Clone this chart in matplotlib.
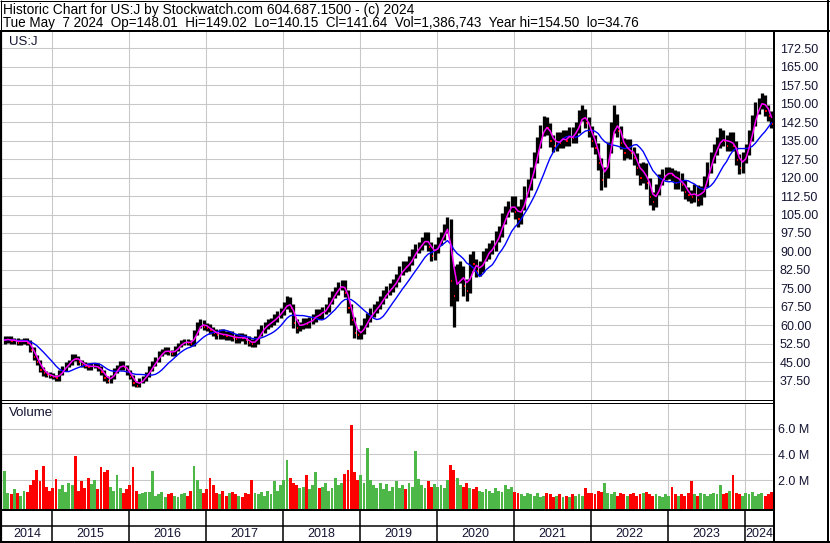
import numpy as np
import pandas as pd
import matplotlib
matplotlib.use("Agg")
import matplotlib.pyplot as plt
from matplotlib.lines import Line2D

# ---------------- data (semi-monthly bars, mid-May 2014 .. May 7 2024) ----------------
close = [
    54, 54.5, 53.5, 54, 53, 53.5, 54, 53, 50, 47, 45, 42, 40.5, 40, 39.5,
    39, 38.5, 41, 42.5, 44, 45, 47.5, 46.5, 45, 44, 43.5, 43, 43.5, 43.5, 42.5, 41, 38.5, 37.5, 39, 41.5, 43, 44.5, 43, 41,
    39, 36.5, 35.5, 37.5, 38.5, 40, 42.5, 44.5, 46, 48.5, 49.5, 50, 49, 48.5, 50.5, 52, 53, 53.5, 53, 52.5, 57, 60, 61, 59.5,
    59, 58, 57, 56, 57, 56, 55.5, 56, 55, 54.5, 55.5, 55, 54, 53, 52.5, 54, 57, 58.5, 60, 61, 61.5, 63, 64.5, 65.5,
    68, 70, 67, 61, 59, 60, 61.5, 60.5, 62, 63, 65, 64, 66, 67, 70, 72.5, 74, 76, 77, 73, 67, 62, 57, 56,
    58, 61, 63, 65, 66.5, 68, 70, 72.5, 74, 75, 77, 79, 82, 84, 83.5, 86, 89, 91, 92, 94, 96, 92, 88, 91,
    94, 96, 99, 102, 78, 72, 80, 82, 76, 74, 86, 85, 82, 83, 88, 89, 91, 92, 96, 98, 103, 106, 108, 110,
    106, 103, 109, 114, 117, 122, 128, 134, 139, 142, 140, 135, 133, 136, 134, 137, 135, 138, 136, 140, 145, 146, 142, 139,
    135, 132, 126, 119, 122, 132, 140, 144, 139, 134, 130, 133, 130, 128, 124, 120, 124, 118, 112, 110, 115, 119, 121, 122,
    122, 121, 118, 120, 117, 114, 113, 112, 115, 111, 114, 118, 124, 128, 131, 134, 137, 135, 133, 136, 133, 127, 124, 128,
    131, 137, 143, 148, 150, 152, 147, 145, 141.6,
]
high = [
    55.5, 55.5, 55.5, 55, 55, 54.5, 55, 55, 54, 51, 48, 46, 43, 41.5, 41,
    40.5, 40, 42, 43.5, 45, 46, 48.5, 48.5, 47.5, 46, 45, 44.5, 44.5, 44.5, 44.5, 43.5, 42, 39.5, 40, 42.5, 44, 45.5, 45.5, 44,
    42, 40, 37.5, 38.5, 39.5, 41, 43.5, 45.5, 47, 49.5, 50.5, 51, 51, 50, 51.5, 53, 54, 54.5, 54.5, 54, 58, 61.5, 62.5, 62,
    61, 60.5, 59.5, 58.5, 58.5, 58.5, 57.5, 57.5, 57.5, 56.5, 57, 57, 56.5, 55.5, 54.5, 55.5, 58.5, 60, 61.5, 62.5, 63, 64.5, 66, 67,
    69.5, 72, 71.5, 68.5, 62.5, 61.5, 63, 63, 63.5, 64.5, 66.5, 66.5, 67.5, 68.5, 71.5, 74, 75.5, 77.5, 78.5, 78.5, 74.5, 68.5, 63.5, 58.5,
    60, 63, 65, 67, 68.5, 70, 72, 74.5, 76, 77, 79, 81, 84, 86, 86, 88, 91, 93, 94, 96, 98, 98, 94, 93,
    96, 98, 101, 104, 103, 84, 85, 86, 84, 79, 89, 90, 87, 86, 90, 91.5, 93.5, 94.5, 98.5, 100.5, 105.5, 108.5, 110.5, 112.5,
    112.5, 108.5, 111.5, 116.5, 119.5, 124.5, 130.5, 136.5, 141.5, 145, 144.5, 142, 137.5, 138.5, 138.5, 139.5, 139.5, 140.5, 140.5, 142.5, 147.5, 149.5, 148, 144.5,
    141, 137.5, 134, 128, 124.5, 134.5, 142.5, 149.5, 146, 141, 136, 135.5, 135.5, 132.5, 130, 126, 126.5, 126, 120, 114, 117.5, 121.5, 123.5, 124.5,
    124.5, 124, 123, 122.5, 122, 119, 116, 115, 117.5, 117, 116.5, 120.5, 126.5, 130.5, 133.5, 136.5, 140, 139.5, 137.5, 138.5, 138.5, 135, 129.5, 130.5,
    133.5, 139.5, 145.5, 150.5, 152.5, 154.5, 153.5, 149.5, 147,
]
low = [
    52.5, 53, 52.5, 52.5, 52, 52, 52.5, 52, 49, 46, 44, 41, 39.5, 39, 38.5,
    38, 37.5, 37.5, 40, 41.5, 43, 44, 45.5, 44, 43, 42.5, 42, 42, 42.5, 41.5, 40, 37.5, 36.5, 36.5, 38, 40.5, 42, 42, 40,
    38, 35.5, 34.8, 34.8, 36.5, 37.5, 39, 41.5, 43.5, 45, 47.5, 48.5, 48, 47.5, 47.5, 49.5, 51, 52, 52, 51.5, 51.5, 56, 59, 58,
    57.5, 56.5, 55.5, 54.5, 54.5, 54.5, 54, 54, 53.5, 53, 53, 53.5, 52.5, 51.5, 51, 51, 52.5, 55.5, 57, 58.5, 59.5, 60, 61.5, 63,
    64, 66.5, 65.5, 59, 57, 57.5, 58.5, 59, 59, 60.5, 61.5, 62.5, 62.5, 64.5, 65.5, 68.5, 71, 72.5, 74.5, 71.5, 65, 60, 55, 54.5,
    54.5, 56.5, 59.5, 61.5, 63.5, 65, 66.5, 68.5, 71, 72.5, 73.5, 75.5, 77.5, 80.5, 81.5, 82, 84.5, 87.5, 89.5, 90.5, 92.5, 90, 86, 86.5,
    89.5, 92.5, 94.5, 97.5, 68, 59.5, 70, 77, 72, 70, 73, 82, 79.5, 80, 81.5, 86, 87, 89, 90, 94, 96, 101, 104, 106,
    103, 100, 101, 107, 112, 115, 120, 126, 132, 137, 137.5, 132.5, 130.5, 131, 132, 132, 133, 133, 134, 134, 138, 143, 140, 136.5,
    132.5, 129.5, 123, 115, 116, 120, 130, 138, 136.5, 131.5, 127, 128, 127.5, 125, 121, 117, 118, 115.5, 109, 107, 108, 113, 117, 119,
    119.5, 118.5, 115.5, 115.5, 114.5, 111.5, 110.5, 109.5, 110, 108.5, 109, 112, 116, 122, 126, 129, 132, 133, 131, 131, 131, 125, 121.5, 122,
    126, 129, 135, 141, 146, 148, 145, 143, 140.2,
]
volume_m = [
    2.7, 1.0, 0.9, 1.3, 1.0, 0.8, 1.2, 1.1, 1.6, 2.0, 2.8, 1.9, 3.1, 1.5, 1.2,
    1.4, 2.1, 1.3, 1.6, 1.1, 1.8, 1.6, 3.9, 1.2, 1.9, 1.4, 2.2, 1.7, 2.0, 1.3, 3.0, 2.6, 2.8, 1.5, 1.2, 2.4, 1.4, 1.0, 1.3,
    1.6, 3.0, 1.2, 0.9, 1.0, 1.1, 1.1, 2.7, 0.8, 0.9, 1.1, 0.7, 0.9, 1.0, 0.8, 0.7, 0.9, 1.0, 0.8, 1.2, 3.1, 2.0, 1.3, 1.0,
    1.3, 2.2, 1.6, 1.0, 0.9, 1.2, 0.8, 1.0, 1.1, 0.9, 0.8, 0.7, 1.0, 0.9, 2.0, 1.0, 0.9, 1.1, 0.8, 1.2, 0.9, 1.9, 1.2, 1.6,
    2.0, 3.6, 2.2, 1.8, 1.6, 1.4, 1.5, 2.4, 1.3, 1.6, 2.6, 1.4, 1.5, 1.8, 1.2, 1.4, 2.2, 1.6, 1.8, 2.5, 2.8, 6.3, 2.6, 2.0,
    2.4, 1.8, 4.5, 2.0, 1.6, 1.4, 1.8, 1.3, 1.7, 1.2, 1.5, 1.9, 1.4, 1.6, 1.3, 1.8, 1.5, 4.3, 2.1, 1.6, 1.4, 1.9, 1.5, 1.7,
    1.5, 1.6, 1.4, 2.0, 3.2, 2.8, 2.2, 1.6, 1.5, 1.8, 1.4, 1.3, 1.5, 1.2, 1.1, 1.3, 1.2, 1.0, 1.4, 1.2, 1.1, 1.6, 1.3, 1.5,
    1.1, 1.0, 0.9, 0.8, 1.0, 0.9, 0.8, 1.0, 0.7, 0.8, 1.0, 0.9, 0.7, 0.8, 0.9, 0.7, 0.8, 0.7, 0.9, 0.8, 0.9, 0.8, 1.4, 1.0,
    1.0, 0.9, 1.2, 1.1, 1.8, 1.0, 0.9, 1.1, 0.8, 1.0, 0.9, 0.8, 0.9, 1.0, 0.8, 0.9, 1.0, 1.1, 0.9, 0.8, 0.9, 0.8, 0.7, 0.9,
    0.8, 1.5, 0.9, 0.8, 0.9, 0.8, 1.0, 1.9, 0.9, 0.8, 1.0, 0.9, 0.8, 0.9, 1.0, 0.9, 1.6, 0.9, 1.0, 1.2, 2.4, 1.0, 0.9, 0.8,
    1.0, 0.9, 1.1, 0.8, 0.9, 1.0, 0.8, 0.9, 1.1,
]
first_bar = 2014.39          # decimal year of first bar
bars_per_year = 24
years = list(range(2014, 2025))
price_ticks = [37.5 + 7.5 * k for k in range(19)]
volume_ticks = [2, 4, 6]
volume_labels = ["2.0 M", "4.0 M", "6.0 M"]
title_line1 = "Historic Chart for US:J by Stockwatch.com 604.687.1500 - (c) 2024"
title_line2 = ("Tue May  7 2024  Op=148.01  Hi=149.02  Lo=140.15  Cl=141.64  "
               "Vol=1,386,743  Year hi=154.50  lo=34.76")
symbol = "US:J"

# ---------------- figure ----------------
plt.rcParams["font.family"] = ["Liberation Sans", "DejaVu Sans"]
W, H = 830, 543
fig = plt.figure(figsize=(W / 100, H / 100), dpi=100)
fig.patch.set_facecolor("white")

def fx(x):
    return x / W

def fy(y):
    return 1 - y / H

def ax_at(x0, y0, x1, y1):
    return fig.add_axes([fx(x0), fy(y1), (x1 - x0) / W, (y1 - y0) / H])

def hline(y, x0, x1, lw_px):
    fig.add_artist(Line2D([fx(x0), fx(x1)], [fy(y), fy(y)], transform=fig.transFigure,
                          color="black", lw=lw_px * 0.72, solid_capstyle="butt"))

def vline(x, y0, y1, lw_px):
    fig.add_artist(Line2D([fx(x), fx(x)], [fy(y0), fy(y1)], transform=fig.transFigure,
                          color="black", lw=lw_px * 0.72, solid_capstyle="butt"))

close_a = np.array(close, dtype=float)
high_a = np.array(high, dtype=float)
low_a = np.array(low, dtype=float)
vol_a = np.array(volume_m, dtype=float)
n = len(close_a)
t = first_bar + np.arange(n) / bars_per_year
dt = 1.0 / bars_per_year
XMIN = 2014.355
XMAX = XMIN + 772 / 77.0
GRID = "#c8c8c8"
LABEL = "#141432"

prev = np.concatenate([[close_a[0]], close_a[:-1]])
down = close_a < prev

# ---- price panel ----
ax = ax_at(2, 31, 774, 400)
ax.set_xlim(XMIN, XMAX)
ax.set_ylim(29.66, 179.54)
for s in ax.spines.values():
    s.set_visible(False)
ax.set_xticks(years[1:])
ax.set_yticks(price_ticks)
ax.set_yticklabels([f"{v:.2f}" for v in price_ticks])
ax.yaxis.tick_right()
ax.tick_params(axis="x", length=0, labelbottom=False)
ax.tick_params(axis="y", length=0, pad=4.3, labelsize=9, labelcolor=LABEL)
ax.grid(True, color=GRID, lw=0.75)
ax.set_axisbelow(True)

ax.vlines(t, low_a, high_a, colors="black", lw=2.35, zorder=3)
ax.hlines(close_a[down], t[down] + 0.1 * dt, t[down] + 0.5 * dt, colors="red", lw=1.4, zorder=4)
ma_fast = pd.Series(close_a).rolling(3, min_periods=1).mean()
ma_slow = pd.Series(close_a).rolling(10, min_periods=1).mean()
ax.plot(t, ma_slow, color="#0000ff", lw=1.0, zorder=5)
ax.plot(t, ma_fast, color="#ff00ff", lw=1.1, zorder=6)
fig.text(fx(9), fy(42), symbol, fontsize=9.5, va="center", ha="left", color=LABEL)

# ---- volume panel ----
axv = ax_at(2, 403, 774, 509)
axv.set_xlim(XMIN, XMAX)
axv.set_ylim(-0.23, 7.98)
for s in axv.spines.values():
    s.set_visible(False)
axv.set_xticks(years[1:])
axv.set_yticks(volume_ticks)
axv.set_yticklabels(volume_labels)
axv.yaxis.tick_right()
axv.tick_params(axis="x", length=0, labelbottom=False)
axv.tick_params(axis="y", length=0, pad=3, labelsize=9, labelcolor=LABEL)
axv.grid(True, color=GRID, lw=0.75)
axv.set_axisbelow(True)
vcolors = np.where(down, "#ff0000", "#4db848")
axv.bar(t, vol_a + 0.25, bottom=-0.25, width=0.9 * dt, color=vcolors, linewidth=0, zorder=3)
fig.text(fx(9), fy(413), "Volume", fontsize=9.5, va="center", ha="left", color=LABEL)

# ---- year row ----
axy = ax_at(2, 510, 774, 541)
axy.set_xlim(XMIN, XMAX)
axy.set_ylim(0, 1)
axy.axis("off")
for yb in years[1:]:
    axy.axvline(yb, color="black", lw=1.1)
for yr in years:
    c = (max(yr, XMIN) + min(yr + 1, XMAX)) / 2
    axy.text(c, (541 - 534) / 31, str(yr), ha="center", va="center", fontsize=9, color=LABEL)

# ---- frame lines ----
hline(0.5, 0, 830, 1)
vline(828, 0, 543, 2)
vline(0.5, 0, 31, 1)
vline(1, 30, 542, 2.2)
hline(30.5, 0, 830, 2)
vline(774, 30, 542, 2)
hline(400, 0, 774, 1)
hline(402.5, 0, 774, 1)
hline(509.5, 0, 774, 2)
hline(525.5, 0, 774, 1.5)
hline(541.5, 0, 830, 2)

# ---- header ----
fig.text(fx(3), fy(14), title_line1, fontsize=9.95, va="baseline", ha="left", color="black")
fig.text(fx(3), fy(27.5), title_line2, fontsize=9.75, va="baseline", ha="left", color="black")

fig.savefig("out.png", dpi=100)
